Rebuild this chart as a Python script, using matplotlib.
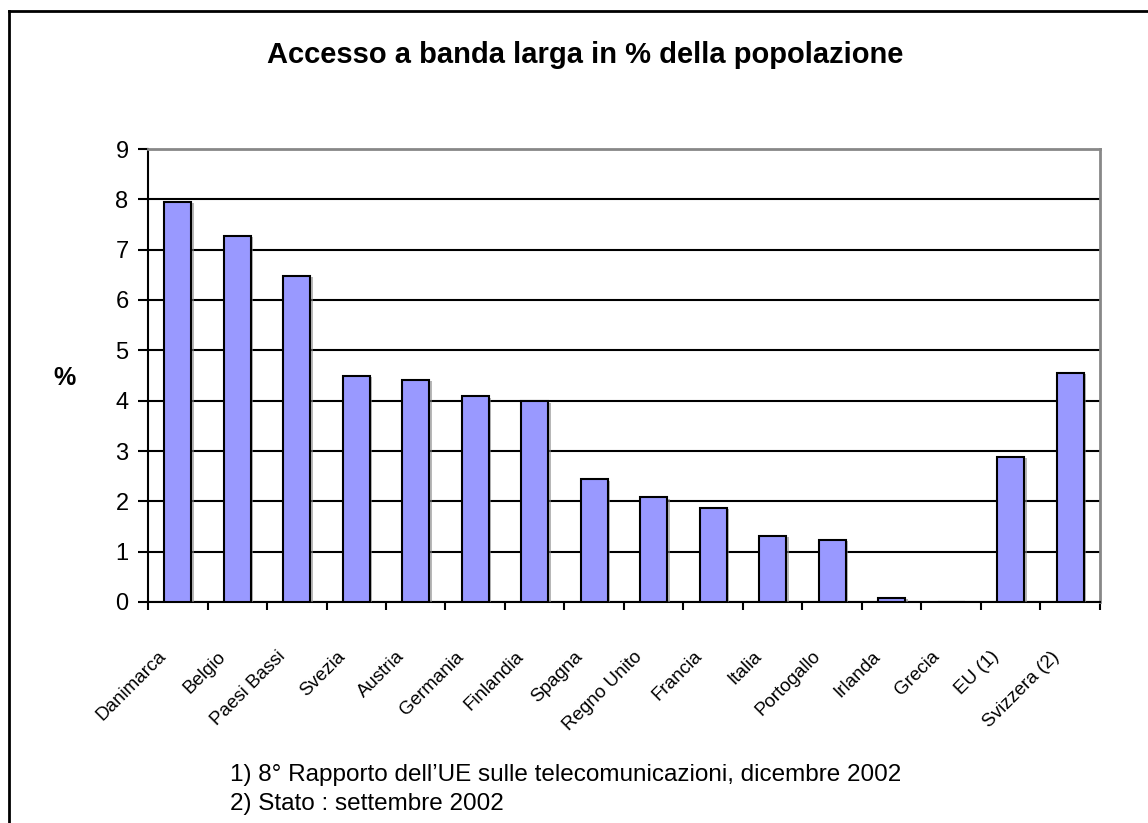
import matplotlib
matplotlib.use("Agg")
import matplotlib.pyplot as plt
import matplotlib.transforms as mtransforms
import matplotlib.patheffects as pe
from matplotlib.lines import Line2D

categories = ["Danimarca", "Belgio", "Paesi Bassi", "Svezia", "Austria", "Germania",
              "Finlandia", "Spagna", "Regno Unito", "Francia", "Italia", "Portogallo",
              "Irlanda", "Grecia", "EU (1)", "Svizzera (2)"]
values = [7.95, 7.27, 6.48, 4.49, 4.41, 4.09, 3.99, 2.44, 2.08, 1.87, 1.31, 1.24,
          0.08, 0.0, 2.88, 4.55]
yticks = list(range(0, 10))
title = "Accesso a banda larga in % della popolazione"
notes = ["1) 8° Rapporto dell\u2019UE sulle telecomunicazioni, dicembre 2002",
         "2) Stato : settembre 2002"]

W, H = 1148, 823
fig = plt.figure(figsize=(W / 100, H / 100), dpi=100)
fig.patch.set_facecolor("white")
ax = fig.add_axes([148 / W, 1 - 602 / H, (1100 - 148) / W, (602 - 149) / H])

x = list(range(len(categories)))
bars = ax.bar(x, values, width=0.45, color="#9999FF", edgecolor="black", linewidth=1.5,
              zorder=3)
for b in bars:
    b.set_path_effects([pe.SimplePatchShadow(offset=(2, -1), shadow_rgbFace="#888888", alpha=0.6),
                        pe.Normal()])

ax.set_xlim(-0.5, len(categories) - 0.5)
ax.set_ylim(0, 9)
ax.set_yticks(yticks)
ax.set_yticklabels([str(t) for t in yticks], fontsize=17, family=["Liberation Sans"])
ax.tick_params(axis="y", direction="out", length=7, width=1.5, pad=7)
ax.yaxis.grid(True, color="black", linewidth=1.5, zorder=0)
ax.set_axisbelow(True)

ax.set_xticks([i - 0.5 for i in range(len(categories) + 1)])
ax.set_xticklabels([])
ax.tick_params(axis="x", direction="out", length=6, width=1.5)

for s in ["left", "bottom"]:
    ax.spines[s].set_color("black")
    ax.spines[s].set_linewidth(1.5)
for s in ["top", "right"]:
    ax.spines[s].set_color("#888888")
    ax.spines[s].set_linewidth(2)

trans = ax.get_xaxis_transform()
for i, lab in enumerate(categories):
    off = mtransforms.ScaledTranslation(-0.14, -0.52, fig.dpi_scale_trans)
    ax.text(i, 0, lab, transform=trans + off, rotation=45, rotation_mode="anchor",
            ha="right", va="center", fontsize=13.5,
            family=["Liberation Sans Narrow", "Liberation Sans"])

fig.text(585 / W, 1 - 55 / H, title, ha="center", va="center", fontsize=21,
         fontweight="bold", family=["Liberation Sans"])
fig.text(65 / W, 1 - 378 / H, "%", ha="center", va="center", fontsize=18,
         fontweight="bold", family=["Liberation Sans"])
fig.text(230 / W, 1 - 775 / H, notes[0], ha="left", va="center", fontsize=17.5,
         family=["Liberation Sans"])
fig.text(230 / W, 1 - 804 / H, notes[1], ha="left", va="center", fontsize=17.5,
         family=["Liberation Sans"])

# outer frame (left and top edges visible)
fig.add_artist(Line2D([9 / W, 9 / W], [0, 1 - 11 / H], transform=fig.transFigure,
                      color="black", linewidth=2))
fig.add_artist(Line2D([9 / W, 1], [1 - 11 / H, 1 - 11 / H], transform=fig.transFigure,
                      color="black", linewidth=2))

fig.savefig("out.png", dpi=100, facecolor="white")
